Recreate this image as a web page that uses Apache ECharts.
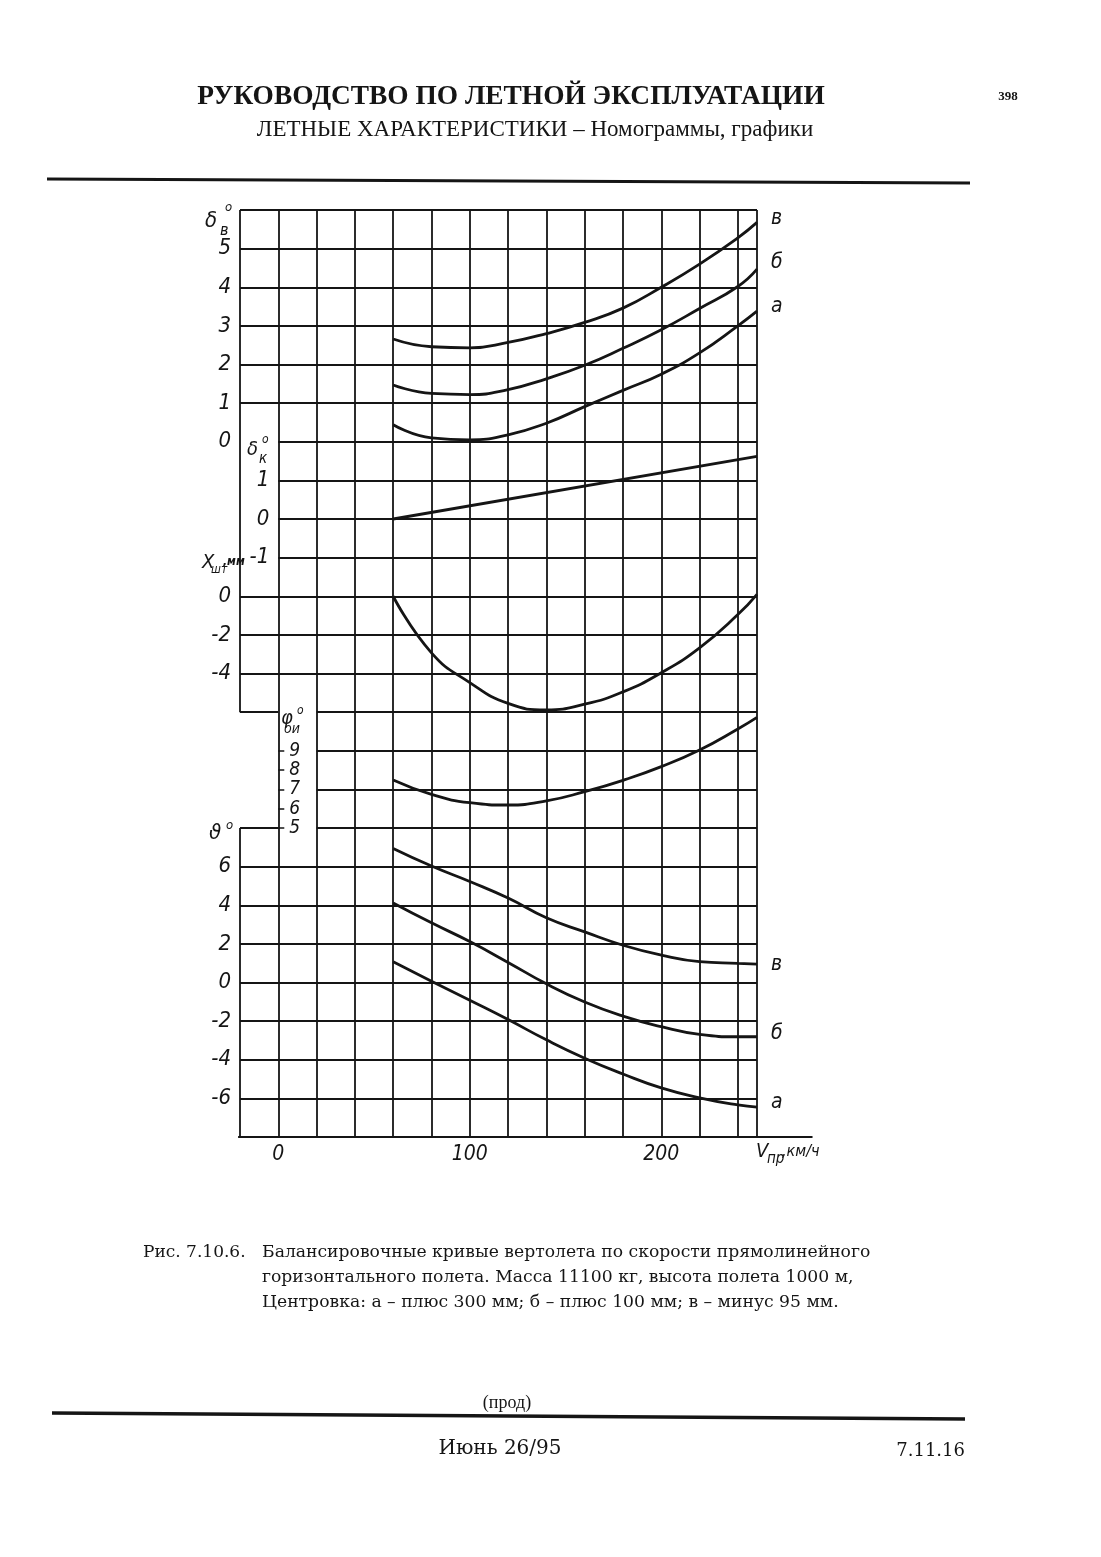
<!DOCTYPE html>
<html><head><meta charset="utf-8">
<script src="https://cdn.jsdelivr.net/npm/echarts@6/dist/echarts.min.js"></script>
<style>html,body{margin:0;padding:0;background:#fff}#c{width:1101px;height:1557px}</style>
</head><body><div id="c"></div>
<script>
// ---------------- data ----------------
const speeds = [60, 80, 100, 120, 140, 160, 180, 200, 220, 240, 250];      // V, km/h
const deltaV_a = [0.44, 0.10, 0.05, 0.18, 0.48, 0.91, 1.33, 1.75, 2.30, 3.00, 3.38];
const deltaV_b = [1.47, 1.25, 1.22, 1.35, 1.63, 1.98, 2.42, 2.90, 3.45, 4.02, 4.47];
const deltaV_v = [2.66, 2.46, 2.43, 2.57, 2.80, 3.09, 3.46, 4.00, 4.60, 5.28, 5.68];
const deltaKSpeeds = [60, 250];
const deltaK = [0, 1.62];
const stickX = [0, -2.93, -4.47, -5.55, -5.88, -5.59, -4.95, -3.96, -2.67, -0.95, 0.10];
const phiOU = [7.49, 6.74, 6.31, 6.19, 6.40, 6.88, 7.47, 8.18, 9.04, 10.13, 10.73];
const theta_a = [1.08, 0.07, -0.92, -1.92, -2.97, -3.92, -4.74, -5.46, -5.97, -6.34, -6.45];
const theta_b = [4.12, 3.09, 2.12, 1.04, -0.07, -1.01, -1.74, -2.29, -2.69, -2.81, -2.81];
const theta_v = [6.94, 6.03, 5.23, 4.37, 3.35, 2.62, 1.93, 1.42, 1.08, 0.99, 0.95];
const curveLetters = ['а', 'б', 'в'];
const xTickLabels = [0, 100, 200];
const deltaVTicks = [0, 1, 2, 3, 4, 5];
const deltaKTicks = [-1, 0, 1];
const stickXTicks = [0, -2, -4];
const phiTicks = [5, 6, 7, 8, 9];
const thetaTicks = [-6, -4, -2, 0, 2, 4, 6];

// ---------------- layout ----------------
const L = 240, R = 757, T = 210, B = 1137;
const XMIN = -20, XMAX = 250;
const ROWS = 24, RH = (B - T) / ROWS;
const pxX = v => L + (v - XMIN) * (R - L) / (XMAX - XMIN);
const X0 = pxX(0);
const INK = '#151515';
const TF = "'Liberation Sans Narrow','DejaVu Sans Condensed','DejaVu Sans',sans-serif";

// frame (grid drawing) in row units on the full-height helper grid
const seg = [];
const H = (r, x1, x2) => seg.push([[x1, r], [x2, r]]);
const V = (x, r1, r2) => seg.push([[x, r1], [x, r2]]);
H(24, -20, 250);
for (let r = 19; r <= 23; r++) H(r, -20, 250);
for (let r = 15; r <= 18; r++) H(r, 0, 250);
for (let r = 12; r <= 14; r++) H(r, -20, 250);
H(11, -20, 0); H(11, 20, 250);
H(10, 20, 250); H(9, 20, 250);
H(8, -20, 0); H(8, 20, 250);
for (let r = 1; r <= 7; r++) H(r, -20, 250);
H(0, -21, 279);
V(-20, 11, 24); V(-20, 0, 8);
for (let x = 0; x <= 240; x += 20) V(x, 0, 24);
V(250, 0, 24);

const gridBox = (rowTop, rowBot, fromZero) => ({
  left: fromZero ? X0 : L, top: T + (ROWS - rowTop) * RH,
  width: R - (fromZero ? X0 : L), height: (rowTop - rowBot) * RH,
  containLabel: false, outerBoundsMode: 'none'
});
const grids = [
  gridBox(24, 0, false),   // 0 frame
  gridBox(24, 18, false),  // 1 δв
  gridBox(18, 15, true),   // 2 δк
  gridBox(14, 11, false),  // 3 Xшт
  gridBox(10, 8, true),    // 4 φои
  gridBox(8, 0, false)     // 5 ϑ
];
const hiddenX = (i, zero) => ({ type: 'value', gridIndex: i, min: zero ? 0 : XMIN, max: XMAX, show: false });
const xAxes = [hiddenX(0), hiddenX(1), hiddenX(2, true), hiddenX(3), hiddenX(4, true), {
  type: 'value', gridIndex: 5, min: XMIN, max: XMAX, interval: 20,
  axisLine: { show: false }, axisTick: { show: false }, splitLine: { show: false },
  axisLabel: { margin: 7, fontFamily: TF, fontStyle: 'italic', fontSize: 21, color: INK,
    formatter: v => xTickLabels.includes(v) ? String(v) : '' }
}];
const labelAxis = (i, min, max, interval, ticks, extra) => Object.assign({
  type: 'value', gridIndex: i, min, max, interval,
  axisLine: { show: false }, axisTick: { show: false }, splitLine: { show: false },
  axisLabel: { margin: 9, fontFamily: TF, fontStyle: 'italic', fontSize: 22, color: INK,
    formatter: v => ticks.includes(v) ? String(v) : '' }
}, extra || {});
const yAxes = [
  { type: 'value', gridIndex: 0, min: 0, max: ROWS, show: false },
  labelAxis(1, 0, 6, 1, deltaVTicks),
  labelAxis(2, -1, 2, 1, deltaKTicks),
  labelAxis(3, -6, 0, 2, stickXTicks),
  labelAxis(4, 5, 9, 1, phiTicks, {
    axisTick: { show: true, inside: true, length: 6, lineStyle: { color: INK, width: 1.5 } },
    axisLabel: { inside: true, margin: 11, fontFamily: TF, fontStyle: 'italic', fontSize: 19, color: INK,
      formatter: v => phiTicks.includes(v) ? String(v) : '' }
  }),
  labelAxis(5, -8, 8, 2, thetaTicks)
];

const curve = (gi, xs, ys, letter, off) => ({
  type: 'line', xAxisIndex: gi, yAxisIndex: gi, data: xs.map((s, k) => [s, ys[k]]),
  smooth: 0.5, showSymbol: false, symbol: 'none', clip: false, z: 5,
  lineStyle: { color: INK, width: 2.8 },
  endLabel: letter ? { show: true, formatter: letter, offset: off, fontFamily: TF,
    fontStyle: 'italic', fontSize: 21, color: INK } : { show: false }
});

const series = [
  { type: 'lines', coordinateSystem: 'cartesian2d', xAxisIndex: 0, yAxisIndex: 0, silent: true, clip: false,
    data: seg.map(c => ({ coords: c })), lineStyle: { color: INK, width: 1.8, opacity: 1 }, z: 2 },
  curve(1, speeds, deltaV_a, curveLetters[0], [6, -5]),
  curve(1, speeds, deltaV_b, curveLetters[1], [6, -7]),
  curve(1, speeds, deltaV_v, curveLetters[2], [6, -4]),
  curve(2, deltaKSpeeds, deltaK),
  curve(3, speeds, stickX),
  curve(4, speeds, phiOU),
  curve(5, speeds, theta_a, curveLetters[0], [6, -5]),
  curve(5, speeds, theta_b, curveLetters[1], [6, -3]),
  curve(5, speeds, theta_v, curveLetters[2], [6, 0])
];

// ---------------- page text ----------------
const txt = (text, x, y, size, o) => ({ type: 'text', x, y, silent: true, style: Object.assign({
  text, fill: INK, fontSize: size, fontFamily: TF, fontStyle: 'italic',
  align: 'left', verticalAlign: 'middle' }, o || {}) });
const serif = "'Liberation Serif','DejaVu Serif',serif";
const dserif = "'DejaVu Serif','Liberation Serif',serif";
const graphic = [
  txt('РУКОВОДСТВО ПО ЛЕТНОЙ ЭКСПЛУАТАЦИИ', 511, 97, 27.4, { fontFamily: serif, fontStyle: 'normal', fontWeight: 'bold', align: 'center' }),
  txt('398', 1008, 97, 13, { fontFamily: serif, fontStyle: 'normal', fontWeight: 'bold', align: 'center' }),
  txt('ЛЕТНЫЕ ХАРАКТЕРИСТИКИ – Номограммы, графики', 535, 130, 23, { fontFamily: serif, fontStyle: 'normal', align: 'center' }),
  { type: 'line', silent: true, shape: { x1: 47, y1: 179, x2: 970, y2: 183 }, style: { stroke: INK, lineWidth: 3 } },
  // axis titles
  txt('δ', 205, 221, 22), txt('o', 225, 208, 13), txt('в', 220, 231, 16),
  txt('δ', 247, 450, 20), txt('o', 262, 440, 12), txt('к', 259, 459, 15),
  txt('X', 202, 563, 20), txt('шт', 211, 570, 12), txt(',мм', 223, 562, 12, { fontWeight: 'bold' }),
  txt('φ', 281, 719, 20), txt('o', 297, 711, 12), txt('ои', 284, 729, 14),
  txt('ϑ', 209, 833, 22), txt('o', 226, 826, 13),
  txt('V', 756, 1152, 20), txt('пр', 767, 1159, 15), txt(',км/ч', 782, 1152, 16),
  // caption
  txt('Рис. 7.10.6.', 143, 1253, 17, { fontFamily: dserif, fontStyle: 'normal' }),
  txt('Балансировочные кривые вертолета по скорости прямолинейного', 262, 1253, 17.2, { fontFamily: dserif, fontStyle: 'normal' }),
  txt('горизонтального полета. Масса 11100 кг, высота полета 1000 м,', 262, 1278, 17.2, { fontFamily: dserif, fontStyle: 'normal' }),
  txt('Центровка: а – плюс 300 мм; б – плюс 100 мм; в – минус 95 мм.', 262, 1303, 17.2, { fontFamily: dserif, fontStyle: 'normal' }),
  // footer
  txt('(прод)', 507, 1403, 18, { fontFamily: serif, fontStyle: 'normal', align: 'center' }),
  { type: 'line', silent: true, shape: { x1: 52, y1: 1413, x2: 965, y2: 1419 }, style: { stroke: INK, lineWidth: 3.5 } },
  txt('Июнь 26/95', 500, 1449, 20, { fontFamily: dserif, fontStyle: 'normal', align: 'center' }),
  txt('7.11.16', 965, 1451, 18, { fontFamily: dserif, fontStyle: 'normal', align: 'right' })
];

const chart = echarts.init(document.getElementById('c'), null, { renderer: 'canvas' });
chart.setOption({
  animation: false, backgroundColor: '#fff',
  textStyle: { fontFamily: TF, color: INK },
  grid: grids, xAxis: xAxes, yAxis: yAxes, series, graphic
});
</script></body></html>
